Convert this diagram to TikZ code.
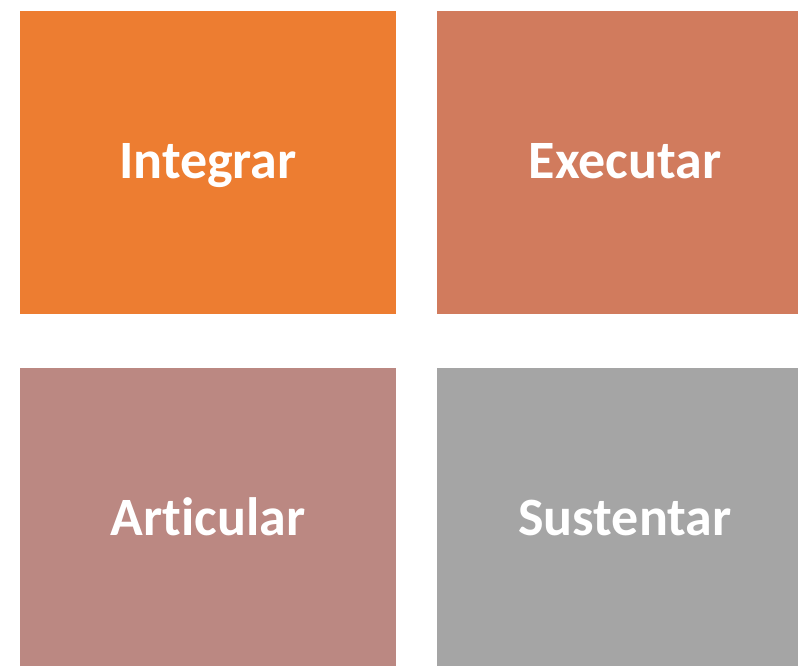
\documentclass[tikz,border=0pt]{standalone}
\usepackage{fontspec}
\setmainfont[Ligatures=NoCommon]{Carlito}
\definecolor{cA}{HTML}{ED7D31}
\definecolor{cB}{HTML}{D17B5D}
\definecolor{cC}{HTML}{BB8882}
\definecolor{cD}{HTML}{A5A5A5}
\begin{document}
\begin{tikzpicture}[x=1pt,y=-1pt,
  tile/.style={draw=none,minimum width=376pt,minimum height=303pt,inner sep=0pt},
  lbl/.style={text=white,font=\fontsize{54}{60}\selectfont\bfseries,
    text height=35pt,text depth=0pt,inner sep=0pt}]
\useasboundingbox (0,0) rectangle (798,666);
\clip (0,0) rectangle (798,666);
\node[tile,fill=cA] (integrar) at (208,162.5) {};
\node[tile,fill=cB] (executar) at (625,162.5) {};
\node[tile,fill=cC] (articular) at (208,519.5) {};
\node[tile,fill=cD] (sustentar) at (625,519.5) {};
\node[lbl] (tA) at ([yshift=1.5pt]integrar.center) {Integrar};
\node[lbl] (tB) at ([yshift=1.5pt]executar.center) {Executar};
\node[lbl] (tC) at ([yshift=1.5pt]articular.center) {Articular};
\node[lbl] (tD) at ([yshift=1.5pt]sustentar.center) {Sustentar};
\end{tikzpicture}
\end{document}
